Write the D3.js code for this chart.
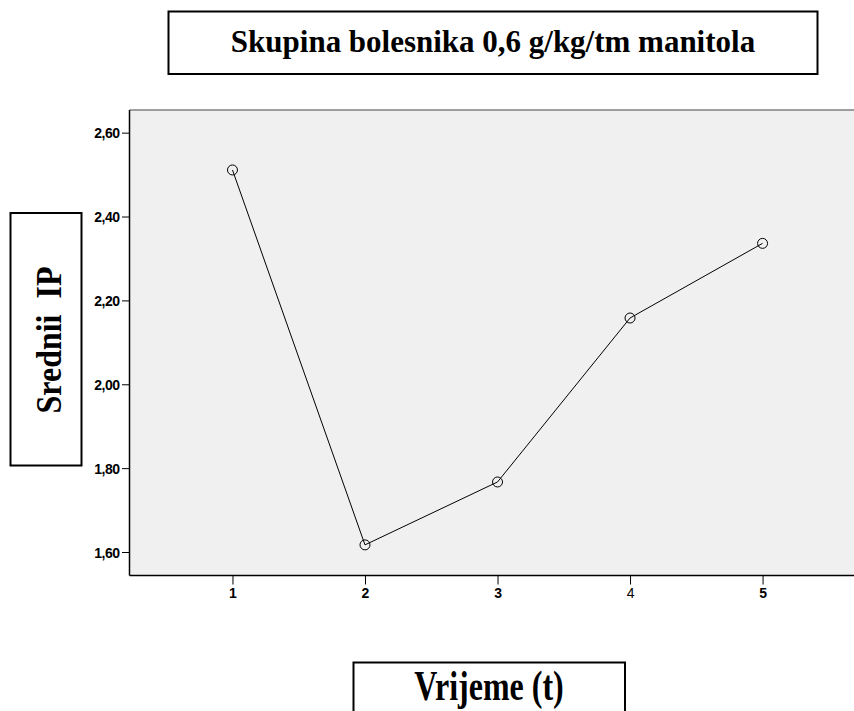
<!DOCTYPE html>
<html>
<head>
<meta charset="utf-8">
<script src="https://cdn.jsdelivr.net/npm/d3@7"></script>
<style>
  body { margin: 0; background: #fff; }
  .box { fill: none; stroke: #000; stroke-width: 2; }
  .lbl { font-family: "Liberation Serif", "Times New Roman", serif; font-weight: bold; font-size: 31px; fill: #000; }
  .tick text { font-family: "Liberation Sans", Arial, sans-serif; font-size: 14px; fill: #000; }
</style>
</head>
<body>
<script>
// time points and mean IP values
var times = [1, 2, 3, 4, 5];
var meanIP = [2.511, 1.617, 1.767, 2.158, 2.336];
var yTicks = [1.6, 1.8, 2.0, 2.2, 2.4, 2.6];
var boldX = [true, true, true, false, true]; // "4" is drawn in regular weight

var width = 854, height = 711;
var plot = {left: 129.5, top: 110, right: 856, bottom: 575.5};

var svg = d3.select('body').append('svg')
    .attr('width', width)
    .attr('height', height);

var x = d3.scaleLinear().domain([0.223, 5.705]).range([plot.left, plot.right]);
var y = d3.scaleLinear().domain([1.544, 2.654]).range([plot.bottom, plot.top]);

// plot background
svg.append('rect')
    .attr('x', plot.left)
    .attr('y', plot.top)
    .attr('width', plot.right - plot.left)
    .attr('height', plot.bottom - plot.top)
    .attr('fill', '#f0f0f0');

svg.append('line')
    .attr('x1', plot.left).attr('x2', plot.right)
    .attr('y1', plot.top).attr('y2', plot.top)
    .attr('stroke', '#808080').attr('stroke-width', 1.5);

// y axis
var yAxis = d3.axisLeft(y)
    .tickValues(yTicks)
    .tickSize(7.5)
    .tickPadding(2.5)
    .tickFormat(function(d) { return d3.format('.2f')(d).replace('.', ','); });

var gy = svg.append('g')
    .attr('transform', 'translate(' + plot.left + ',0)')
    .call(yAxis);
gy.select('.domain').attr('stroke', '#000').attr('stroke-width', 1.5)
    .attr('d', 'M0,' + plot.top + 'V' + plot.bottom);
gy.selectAll('.tick line').attr('stroke', '#000');
gy.selectAll('.tick text').attr('font-weight', 'bold').attr('dy', '0.36em')
    .attr('letter-spacing', '-0.5');

// x axis
var xAxis = d3.axisBottom(x)
    .tickValues(times)
    .tickSize(9)
    .tickPadding(4)
    .tickFormat(d3.format('d'));

var gx = svg.append('g')
    .attr('transform', 'translate(0,' + plot.bottom + ')')
    .call(xAxis);
gx.select('.domain').attr('stroke', '#000').attr('stroke-width', 1.5)
    .attr('d', 'M' + plot.left + ',0H' + plot.right);
gx.selectAll('.tick line').attr('stroke', '#000');
gx.selectAll('.tick text').attr('font-weight', function(d, i) { return boldX[i] ? 'bold' : 'normal'; });

// line and markers
var data = times.map(function(t, i) { return {t: t, v: meanIP[i]}; });

var line = d3.line()
    .x(function(d) { return x(d.t); })
    .y(function(d) { return y(d.v); });

svg.append('path')
    .datum(data)
    .attr('d', line)
    .attr('fill', 'none')
    .attr('stroke', '#000')
    .attr('stroke-width', 1);

svg.selectAll('circle.pt')
    .data(data)
    .enter().append('circle')
    .attr('class', 'pt')
    .attr('cx', function(d) { return x(d.t); })
    .attr('cy', function(d) { return y(d.v); })
    .attr('r', 5)
    .attr('fill', 'none')
    .attr('stroke', '#000')
    .attr('stroke-width', 1);

// title box
svg.append('rect').attr('class', 'box')
    .attr('x', 168.5).attr('y', 11.5).attr('width', 649).attr('height', 62.5);
svg.append('text').attr('class', 'lbl')
    .attr('transform', 'translate(493,52) scale(1,1.05)')
    .attr('text-anchor', 'middle')
    .text('Skupina bolesnika 0,6 g/kg/tm manitola');

// y label box
svg.append('rect').attr('class', 'box')
    .attr('x', 10.5).attr('y', 213).attr('width', 71).attr('height', 252.5);
svg.append('text').attr('class', 'lbl')
    .attr('transform', 'translate(61,340) rotate(-90) scale(1,1.13)')
    .attr('text-anchor', 'middle')
    .style('white-space', 'pre')
    .style('font-size', '32px')
    .text('Srednii  IP');

// x label box
svg.append('rect').attr('class', 'box')
    .attr('x', 353.5).attr('y', 662.5).attr('width', 271.5).attr('height', 60);
svg.append('text').attr('class', 'lbl')
    .attr('transform', 'translate(489,700) scale(1,1.35)')
    .attr('text-anchor', 'middle')
    .style('font-size', '32px')
    .text('Vrijeme (t)');
</script>
</body>
</html>
